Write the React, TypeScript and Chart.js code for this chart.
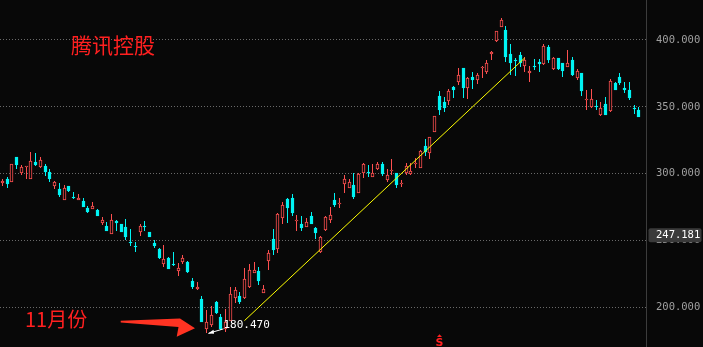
import React, { useEffect, useRef } from 'react';
import { Chart, registerables } from 'chart.js';

Chart.register(...registerables);

// ---- data ----
const opens = [
  293.3, 296, 294, 312.4, 300.7, 304.6, 296, 308.7, 305.2, 305.5,
  301.3, 291, 288.5, 280.3, 290.8, 282.8, 280.3, 279.8, 274.6, 273.8,
  273, 263.3, 260.9, 255, 264.8, 262.4, 259.9, 249, 246, 256.6,
  261, 256.3, 248.2, 243.8, 232.4, 237.1, 232.4, 227.4, 234.1, 233.9,
  219.9, 213.7, 206, 184, 186.8, 204.2, 193, 183.5, 190, 206.7,
  208.7, 206.7, 215, 225.4, 227.2, 210.9, 234.9, 251.1, 243.6, 266.6,
  281, 282, 264.2, 262.3, 259.9, 268.3, 259.3, 241.4, 257.8, 265.3,
  280.3, 277.5, 292, 289.5, 291.5, 285.3, 300.3, 300.8, 297.8, 303.2,
  307.2, 295.2, 302.2, 300.2, 292.3, 300.3, 299.5, 307, 304, 320.7,
  315.7, 331.4, 358.1, 353.8, 354.6, 365.1, 368.8, 379.3, 364.3, 372.5,
  370, 379.1, 376, 389.3, 399.3, 409.5, 407.5, 389.5, 385, 388.8,
  380.8, 375.1, 380.5, 383.8, 382, 394.5, 378.3, 386.8, 382.6, 380,
  385, 371.3, 375, 355.2, 350.1, 350.6, 343.9, 352.1, 346.9, 368,
  372.5, 364, 362.6, 349, 347.6,
];
const highs = [
  296, 297.8, 307.3, 312.5, 306.5, 305.8, 316.2, 315.2, 312.2, 307,
  303.3, 294.5, 292.8, 291.5, 291, 286.5, 284.8, 281.6, 275.6, 278.6,
  273.8, 267.6, 263.7, 269.8, 265.4, 262.6, 266, 258.6, 248.7, 262.1,
  264.6, 256.5, 250.4, 244.6, 246.6, 237.9, 241.6, 233.4, 239.2, 234.7,
  222.1, 218.7, 208.4, 198, 201, 204.7, 194.8, 198.7, 215, 215,
  211.7, 229.2, 232.2, 234.1, 230.4, 216.7, 242.9, 258.6, 270.3, 279,
  281.6, 284.8, 269.1, 268.3, 266.6, 271, 259.8, 253.3, 268.3, 274.8,
  285.3, 281.6, 299, 295.8, 300.7, 300.2, 308.2, 306.5, 307.2, 309,
  308.5, 303.2, 310.7, 300.7, 295.2, 307.7, 308.2, 311.5, 317.7, 325.9,
  327.6, 343.5, 361.8, 357.6, 363.1, 365.6, 378.8, 379.3, 372.5, 376.3,
  375.5, 380.5, 385, 391.8, 406.8, 416.2, 410.5, 397, 386.3, 391.2,
  387.5, 380.5, 385.5, 385.5, 397, 396.3, 387.5, 386.9, 382.6, 392.5,
  387, 378, 375, 362.6, 363.1, 355.1, 353.8, 357.6, 370.6, 368.8,
  375, 368.8, 368.8, 351.4, 349.6,
];
const lows = [
  291, 289.5, 294, 303.7, 299.2, 296, 296, 305.8, 304.5, 298.4,
  294, 288.5, 282.6, 280, 286.3, 281, 280.3, 275, 270.4, 273.6,
  268, 261.9, 257.1, 255, 257.1, 256, 250.3, 245.9, 241.4, 253.6,
  257.3, 252.8, 244.2, 236.2, 230.4, 228.9, 230.9, 223.4, 232.4, 225.4,
  213.4, 212.9, 188.8, 180.47, 185.5, 195, 183, 181.7, 190, 203,
  202.5, 206.5, 214.2, 225.4, 216.7, 210.9, 227.9, 239.1, 240.9, 262.3,
  263.3, 268.6, 257.4, 257.4, 259.9, 262.3, 250.9, 240.9, 257.4, 262.8,
  275.3, 274.1, 285.3, 289.5, 281, 285.3, 297, 297.7, 297.7, 302.7,
  298.5, 294, 299, 289, 290.2, 299, 299, 304, 304, 313.4,
  310.7, 331, 343.9, 346.4, 351.4, 356.4, 366.3, 356.8, 355.6, 363.1,
  366.8, 371.3, 374.6, 385, 398.7, 409.5, 383.8, 373.8, 373.3, 380,
  375.8, 368.8, 377.5, 376.3, 381.3, 382.6, 377.5, 377.8, 372.5, 380,
  373, 370, 358.4, 347.6, 348.9, 347.6, 343.1, 343.9, 346.4, 362.6,
  366.3, 360.1, 355.1, 344.6, 342.2,
];
const closes = [
  294.5, 292.3, 307.3, 306.4, 305, 305.6, 309.2, 306.4, 310.2, 301,
  296, 293.8, 284, 289.3, 287.3, 282, 282, 275.3, 271.3, 276,
  268.3, 265.4, 257.4, 265.4, 263.3, 256.4, 252.8, 248, 245.3, 260.9,
  260.4, 252.8, 245.9, 237.1, 236.2, 228.9, 231.6, 229.7, 237.2, 226.2,
  214.9, 215.4, 189.3, 189.3, 194.3, 195.7, 183.5, 188.9, 210, 213,
  204.2, 221, 227.9, 227.9, 219.3, 213.7, 240.4, 242.9, 269.8, 276.5,
  274.5, 270.3, 265.3, 259.6, 264.1, 262.3, 255.8, 252.4, 267.8, 269,
  276.5, 278, 295.8, 293.8, 282.7, 299.7, 307, 300.1, 300.7, 307.2,
  299.7, 299, 302.7, 291.5, 293.2, 305.7, 302, 308.2, 317, 316.4,
  327.2, 343.4, 347.6, 349.3, 361.8, 362.6, 373.8, 364.3, 371.3, 370,
  373.8, 380, 383, 391.2, 406.7, 415, 387.5, 382.6, 384.3, 383,
  385, 376.8, 380, 382, 395.5, 385, 386.3, 378.1, 377, 382.6,
  373.8, 376.8, 362, 355.8, 355.8, 349.8, 349.3, 343.9, 369.5, 362.6,
  368, 362.8, 356.4, 348.3, 342.6,
];
// trading-day slots (one blank slot keeps the gap before the price axis)
const days = [...opens.map((_, i) => `D${i + 1}`), ''];
const yTicks = [200, 250, 300, 350, 400];
const trendStart = { x: 48.6, y: 190 };
const trendEnd = { x: 116, y: 386.5 };
const cursorPrice = 247.181;
const stockName = '腾讯控股';
const monthNote = '11月份';
const markerIndex = 92;

const UP = '#ff5050';
const DOWN = '#00f4f4';
const BG = '#080808';

export default function App() {
  const ref = useRef<HTMLCanvasElement | null>(null);

  useEffect(() => {
    document.body.style.margin = '0';
    document.body.style.background = BG;
    const canvas = ref.current;
    if (!canvas) return;

    const isUp = opens.map((o, i) => closes[i] >= o);

    const snap = {
      id: 'snap',
      beforeDatasetsDraw(chart: any) {
        chart.data.datasets.forEach((ds: any, di: number) => {
          if (ds.type === 'line') return;
          const meta = chart.getDatasetMeta(di);
          meta.data.forEach((el: any) => {
            el.x = Math.floor(el.x) + 0.5;
            el.y = Math.round(el.y);
            el.base = Math.round(el.base);
            if (el.y === el.base) el.y = el.base - 1;
          });
        });
      },
    };

    const annotations = {
      id: 'annotations',
      beforeDraw(chart: any) {
        const { ctx } = chart;
        ctx.save();
        ctx.fillStyle = BG;
        ctx.fillRect(0, 0, chart.width, chart.height);
        ctx.restore();
      },
      afterDraw(chart: any) {
        const { ctx } = chart;
        const xs = chart.scales.x;
        const ys = chart.scales.y;
        ctx.save();

        // title
        ctx.fillStyle = '#ff2020';
        ctx.font = '21px "Noto Sans CJK SC"';
        ctx.textBaseline = 'alphabetic';
        ctx.textAlign = 'left';
        ctx.fillText(stockName, 71, 53);

        // month note
        ctx.font = '20px "Noto Sans CJK SC"';
        ctx.fillText(monthNote, 25, 327);

        // red arrow
        ctx.fillStyle = '#ff3322';
        ctx.beginPath();
        ctx.moveTo(120.7, 320.7);
        ctx.lineTo(180, 318.5);
        ctx.lineTo(195, 328.3);
        ctx.lineTo(176.7, 336.7);
        ctx.lineTo(178.5, 327);
        ctx.lineTo(120.7, 322.5);
        ctx.closePath();
        ctx.fill();

        // lowest point label
        let lowIdx = 0;
        lows.forEach((v, i) => { if (v < lows[lowIdx]) lowIdx = i; });
        const lx = Math.floor(xs.getPixelForValue(lowIdx)) + 0.5;
        const ly = ys.getPixelForValue(lows[lowIdx]);
        ctx.strokeStyle = '#ffffff';
        ctx.fillStyle = '#ffffff';
        ctx.lineWidth = 1;
        ctx.beginPath();
        ctx.moveTo(lx + 17, ly - 4.5);
        ctx.lineTo(lx + 2, ly);
        ctx.stroke();
        ctx.beginPath();
        ctx.moveTo(lx + 1.5, ly + 0.2);
        ctx.lineTo(lx + 7, ly - 3.5);
        ctx.lineTo(lx + 7.5, ly + 0.5);
        ctx.closePath();
        ctx.fill();
        ctx.font = '11px "DejaVu Sans Mono"';
        ctx.textBaseline = 'middle';
        ctx.fillText(lows[lowIdx].toFixed(3), lx + 17, ly - 8);

        // S marker at the bottom
        const sx = Math.floor(xs.getPixelForValue(markerIndex)) + 0.5;
        ctx.fillStyle = '#ff2020';
        ctx.beginPath();
        ctx.moveTo(sx - 2.5, 337);
        ctx.lineTo(sx + 2.5, 337);
        ctx.lineTo(sx, 334.3);
        ctx.closePath();
        ctx.fill();
        ctx.font = 'bold 11px "DejaVu Sans"';
        ctx.textAlign = 'center';
        ctx.textBaseline = 'alphabetic';
        ctx.fillText('S', sx, 346);

        // current price box on the axis
        const by = ys.getPixelForValue(cursorPrice) - 9;
        ctx.fillStyle = '#3a3a3a';
        ctx.beginPath();
        (ctx as any).roundRect(648.5, by - 7, 53, 14, 2);
        ctx.fill();
        ctx.fillStyle = '#ffffff';
        ctx.font = '10.5px "DejaVu Sans Mono"';
        ctx.textAlign = 'left';
        ctx.textBaseline = 'middle';
        ctx.fillText(cursorPrice.toFixed(3), 656, by + 0.5);

        ctx.restore();
      },
    };

    const chart = new Chart(canvas, {
      type: 'bar',
      data: {
        labels: days,
        datasets: [
          {
            type: 'line',
            label: 'trend',
            xAxisID: 'xl',
            data: [trendStart, trendEnd],
            borderColor: '#ffff00',
            borderWidth: 1,
            pointRadius: 0,
            order: 0,
          } as any,
          {
            label: 'body',
            data: opens.map((o, i) => [o, closes[i]]),
            backgroundColor: isUp.map((u) => (u ? BG : DOWN)),
            borderColor: isUp.map((u) => (u ? UP : DOWN)),
            borderWidth: 1,
            borderSkipped: false,
            barThickness: 3,
            minBarLength: 1,
            grouped: false,
            order: 1,
          },
          {
            label: 'wick',
            data: lows.map((l, i) => [l, highs[i]]),
            backgroundColor: isUp.map((u) => (u ? UP : DOWN)),
            borderWidth: 0,
            inflateAmount: 0,
            barThickness: 1,
            grouped: false,
            order: 2,
          },
        ],
      },
      options: {
        responsive: false,
        animation: false,
        devicePixelRatio: 1,
        layout: { padding: 0 },
        plugins: { legend: { display: false }, tooltip: { enabled: false }, title: { display: false } },
        scales: {
          x: { type: 'category', display: false, offset: true },
          xl: { type: 'linear', display: false, min: -0.5, max: days.length - 0.5 },
          y: {
            position: 'right',
            min: 170.27,
            max: 429.93,
            afterBuildTicks: (s: any) => { s.ticks = yTicks.map((value) => ({ value })); },
            afterFit: (s: any) => { s.width = 57; s.paddingTop = 0; s.paddingBottom = 0; },
            grid: { color: '#6a6a6a', lineWidth: 1, drawTicks: false },
            border: { display: true, color: '#3c3c3c', width: 1, dash: [1, 2] },
            ticks: {
              color: '#a0a0a0',
              padding: 10,
              font: { family: 'DejaVu Sans Mono', size: 10.5 },
              callback: (v: any) => Number(v).toFixed(3),
            },
          },
        },
      },
      plugins: [snap, annotations],
    });

    return () => chart.destroy();
  }, []);

  return (
    <div style={{ width: 703, height: 347, background: BG }}>
      <canvas ref={ref} width={703} height={347} style={{ display: 'block' }} />
    </div>
  );
}
